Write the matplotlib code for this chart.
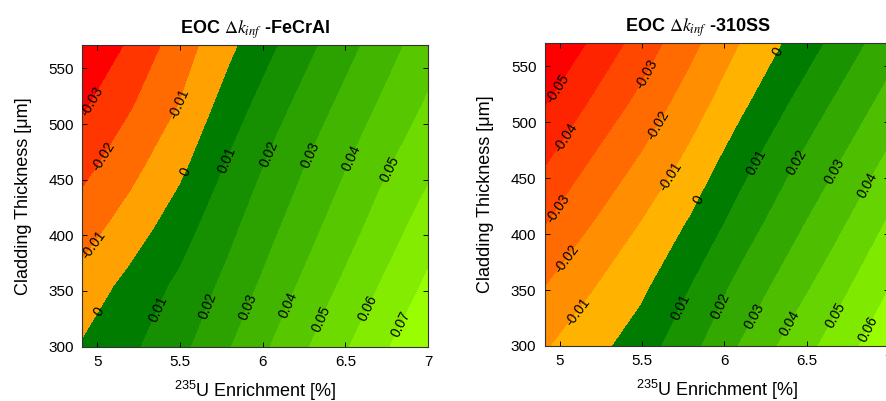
import numpy as np
import matplotlib
matplotlib.use("Agg")
import matplotlib.pyplot as plt

plt.rcParams['font.family'] = ['Liberation Sans', 'DejaVu Sans']
plt.rcParams['mathtext.fontset'] = 'custom'
plt.rcParams['mathtext.rm'] = 'Liberation Sans'
plt.rcParams['mathtext.it'] = 'Liberation Sans:italic'

# grid
enrich = [4.9, 5.2, 5.5, 5.8, 6.1, 6.4, 6.7, 7.0]
thick = [300, 354, 408, 463, 517, 571]

# EOC dk_inf, FeCrAl cladding (rows = thickness)
dk_fecral = [
    [0.0005, 0.0080, 0.0171, 0.0295, 0.0423, 0.0549, 0.0672, 0.0790],
    [-0.0066, 0.0032, 0.0121, 0.0231, 0.0358, 0.0481, 0.0600, 0.0720],
    [-0.0149, -0.0056, 0.0054, 0.0175, 0.0296, 0.0416, 0.0534, 0.0648],
    [-0.0237, -0.0134, -0.0026, 0.0113, 0.0238, 0.0354, 0.0472, 0.0577],
    [-0.0320, -0.0210, -0.0097, 0.0045, 0.0173, 0.0290, 0.0405, 0.0512],
    [-0.0420, -0.0284, -0.0151, -0.0023, 0.0102, 0.0225, 0.0340, 0.0457],
]

# EOC dk_inf, 310SS cladding
dk_310ss = [
    [-0.0113, -0.0036, 0.0052, 0.0171, 0.0306, 0.0433, 0.0552, 0.0672],
    [-0.0207, -0.0108, -0.0023, 0.0100, 0.0228, 0.0345, 0.0469, 0.0596],
    [-0.0307, -0.0199, -0.0094, 0.0014, 0.0146, 0.0266, 0.0384, 0.0514],
    [-0.0413, -0.0290, -0.0184, -0.0070, 0.0063, 0.0187, 0.0301, 0.0424],
    [-0.0513, -0.0389, -0.0271, -0.0150, -0.0024, 0.0102, 0.0221, 0.0335],
    [-0.0617, -0.0487, -0.0358, -0.0229, -0.0100, 0.0017, 0.0136, 0.0256],
]

lev_fecral = [-0.03, -0.02, -0.01, 0, 0.01, 0.02, 0.03, 0.04, 0.05, 0.06, 0.07]
lev_310ss = [-0.05, -0.04, -0.03, -0.02, -0.01, 0, 0.01, 0.02, 0.03, 0.04, 0.05, 0.06]

# where the contour labels sit
lab_fecral = [(4.994, 518.6), (5.055, 469), (5.479, 518.6), (4.984, 389.8),
              (5.55, 455.7), (5.024, 329.9), (5.782, 467.7), (5.378, 332.9),
              (6.034, 473.7), (5.671, 336), (6.287, 472.2), (5.903, 336),
              (6.539, 469), (6.125, 339), (6.76, 460), (6.347, 325.4),
              (6.61, 336), (6.82, 321)]
lab_310ss = [(5.0, 529.1), (5.04, 485.8), (5.543, 542.5), (4.99, 423),
             (5.614, 496.2), (5.05, 376.8), (5.684, 450), (5.111, 330.5),
             (6.328, 563.4), (5.845, 430.5), (6.187, 464.9), (5.734, 335),
             (6.439, 464.9), (5.966, 336.4), (6.67, 455.9), (6.177, 327.5),
             (6.871, 444), (6.418, 318.5), (6.67, 327.5), (6.871, 315.5)]


def band_colors(n_neg, g_end, n_pos):
    neg = [(1.0, g, 0.0) for g in np.linspace(0, g_end, n_neg)]
    pos = [(r, g, 0.0) for r, g in zip(np.linspace(0, 0.6, n_pos),
                                        np.linspace(0.49, 1.0, n_pos))]
    return neg + pos


def panel(ax, z, levels, cols, labpos, name, title_x):
    X, Y = np.meshgrid(enrich, thick)
    Z = np.array(z)
    ax.contourf(X, Y, Z, levels=levels, colors=cols, extend='both')
    cs = ax.contour(X, Y, Z, levels=levels, colors='k', linewidths=0)
    ax.clabel(cs, manual=labpos, inline=True, fontsize=10, fmt='%g', colors='k')
    ax.set_xlim(4.91, 7.0)
    ax.set_ylim(300, 571)
    ax.set_xticks([5, 5.5, 6, 6.5, 7])
    ax.set_xticklabels(['5', '5.5', '6', '6.5', '7'])
    ax.set_yticks([300, 350, 400, 450, 500, 550])
    ax.tick_params(direction='in', top=True, right=True, length=3.5,
                   width=0.7, labelsize=11, pad=6)
    for s in ax.spines.values():
        s.set_linewidth(0.8)
        s.set_color('#333333')
    ax.set_xlabel(r'$^{235}$U Enrichment [%]', fontsize=13, labelpad=7)
    ax.set_ylabel('Cladding Thickness [μm]', fontsize=13, labelpad=12)
    ax.set_title(r'EOC $\Delta k_{inf}$ -' + name, fontsize=13, fontweight='bold',
                 math_fontfamily='stix', x=title_x, pad=8)


fig = plt.figure(figsize=(8.87, 4.01), dpi=100)
ax1 = fig.add_axes([0.0930, 0.1357, 0.3895, 0.7521])
ax2 = fig.add_axes([0.6141, 0.1372, 0.3880, 0.7556])

panel(ax1, dk_fecral, lev_fecral, band_colors(4, 0.63, 8), lab_fecral, 'FeCrAl', 0.5)
panel(ax2, dk_310ss, lev_310ss, band_colors(6, 0.70, 7), lab_310ss, '310SS', 0.446)

fig.savefig('out.png', dpi=100)
